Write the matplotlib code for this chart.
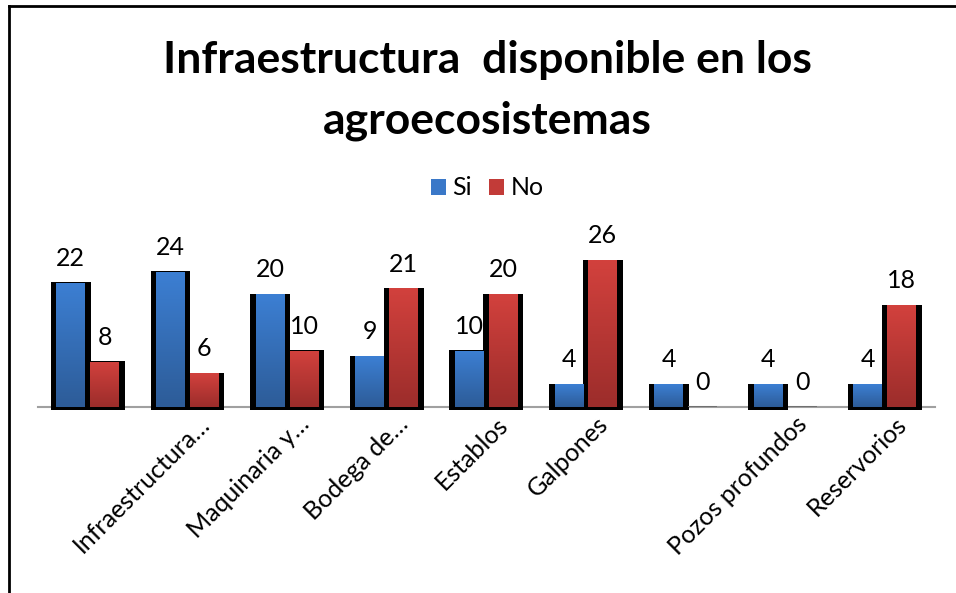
import matplotlib.pyplot as plt
import numpy as np
from matplotlib.colors import LinearSegmentedColormap
from matplotlib.patches import Rectangle
from matplotlib.lines import Line2D

plt.rcParams['font.family'] = ['Lato', 'DejaVu Sans']

categories = ['', 'Infraestructura…', 'Maquinaria y…', 'Bodega de…', 'Establos',
              'Galpones', '', 'Pozos profundos', 'Reservorios']
si = [22, 24, 20, 9, 10, 4, 4, 4, 4]
no = [8, 6, 10, 21, 20, 26, 0, 0, 18]
series_names = ['Si', 'No']

blue_map = LinearSegmentedColormap.from_list('b', ['#2D5C98', '#3C7FD3'])
red_map = LinearSegmentedColormap.from_list('r', ['#9C2D2B', '#D2413D'])
grad = np.linspace(0, 1, 100).reshape(-1, 1)

fig = plt.figure(figsize=(9.56, 5.93), dpi=100)
ax = fig.add_axes([0.0397, 0.3137, 0.938, 0.2664])

x = np.arange(len(categories))
off = 0.17
fill_w = 0.29
shad_w = 0.40

# black shadows first, then the gradient fills
for vals, sign in [(si, -1), (no, 1)]:
    for xi, v in zip(x, vals):
        c = xi + sign * off
        if v > 0:
            sh = Rectangle((c - shad_w / 2, -0.5), shad_w, v + 0.6,
                           facecolor='black', edgecolor='none', zorder=1, clip_on=False)
        else:
            sh = Rectangle((c - fill_w / 2, 0), fill_w, 0.25,
                           facecolor='#707070', edgecolor='none', zorder=1, clip_on=False)
        ax.add_patch(sh)

for vals, sign, cmap in [(si, -1, blue_map), (no, 1, red_map)]:
    for xi, v in zip(x, vals):
        c = xi + sign * off
        ax.text(c, v + 2.3, str(v), ha='center', va='bottom', fontsize=18)
        if v <= 0:
            continue
        rect = Rectangle((c - fill_w / 2, 0), fill_w, v, facecolor='none',
                         edgecolor='none', zorder=2)
        ax.add_patch(rect)
        im = ax.imshow(grad, extent=[c - fill_w / 2, c + fill_w / 2, 0, v],
                       origin='lower', aspect='auto', cmap=cmap, zorder=2)
        im.set_clip_path(rect)

ax.set_xlim(-0.5, len(categories) - 0.5)
ax.set_ylim(0, 28)
for s in ['top', 'right', 'left']:
    ax.spines[s].set_visible(False)
ax.spines['bottom'].set_color('#A0A0A0')
ax.spines['bottom'].set_linewidth(1.5)
ax.spines['bottom'].set_zorder(0)
ax.set_yticks([])
ax.set_xticks(x + 0.1)
ax.set_xticklabels(categories, rotation=45, ha='right', rotation_mode='anchor',
                   fontsize=18)
ax.tick_params(axis='x', length=0, pad=4)

fig.text(0.51, 0.898, 'Infraestructura  disponible en los', ha='center', va='center',
         fontsize=32, fontweight='bold')
fig.text(0.51, 0.797, 'agroecosistemas', ha='center', va='center',
         fontsize=32, fontweight='bold')

handles = [Rectangle((0, 0), 1, 1, facecolor='#3A78C8'),
           Rectangle((0, 0), 1, 1, facecolor='#C23B38')]
fig.legend(handles, series_names, loc='center', bbox_to_anchor=(0.51, 0.683), ncol=2,
           frameon=False, fontsize=18, handlelength=0.6, handleheight=0.6,
           handletextpad=0.25, columnspacing=0.7)

# chart frame
fig.add_artist(Line2D([9 / 956, 9 / 956], [0, 1 - 6 / 593], color='black', lw=2))
fig.add_artist(Line2D([9 / 956, 1], [1 - 6 / 593, 1 - 6 / 593], color='black', lw=2))

fig.savefig('out.png', dpi=100)
